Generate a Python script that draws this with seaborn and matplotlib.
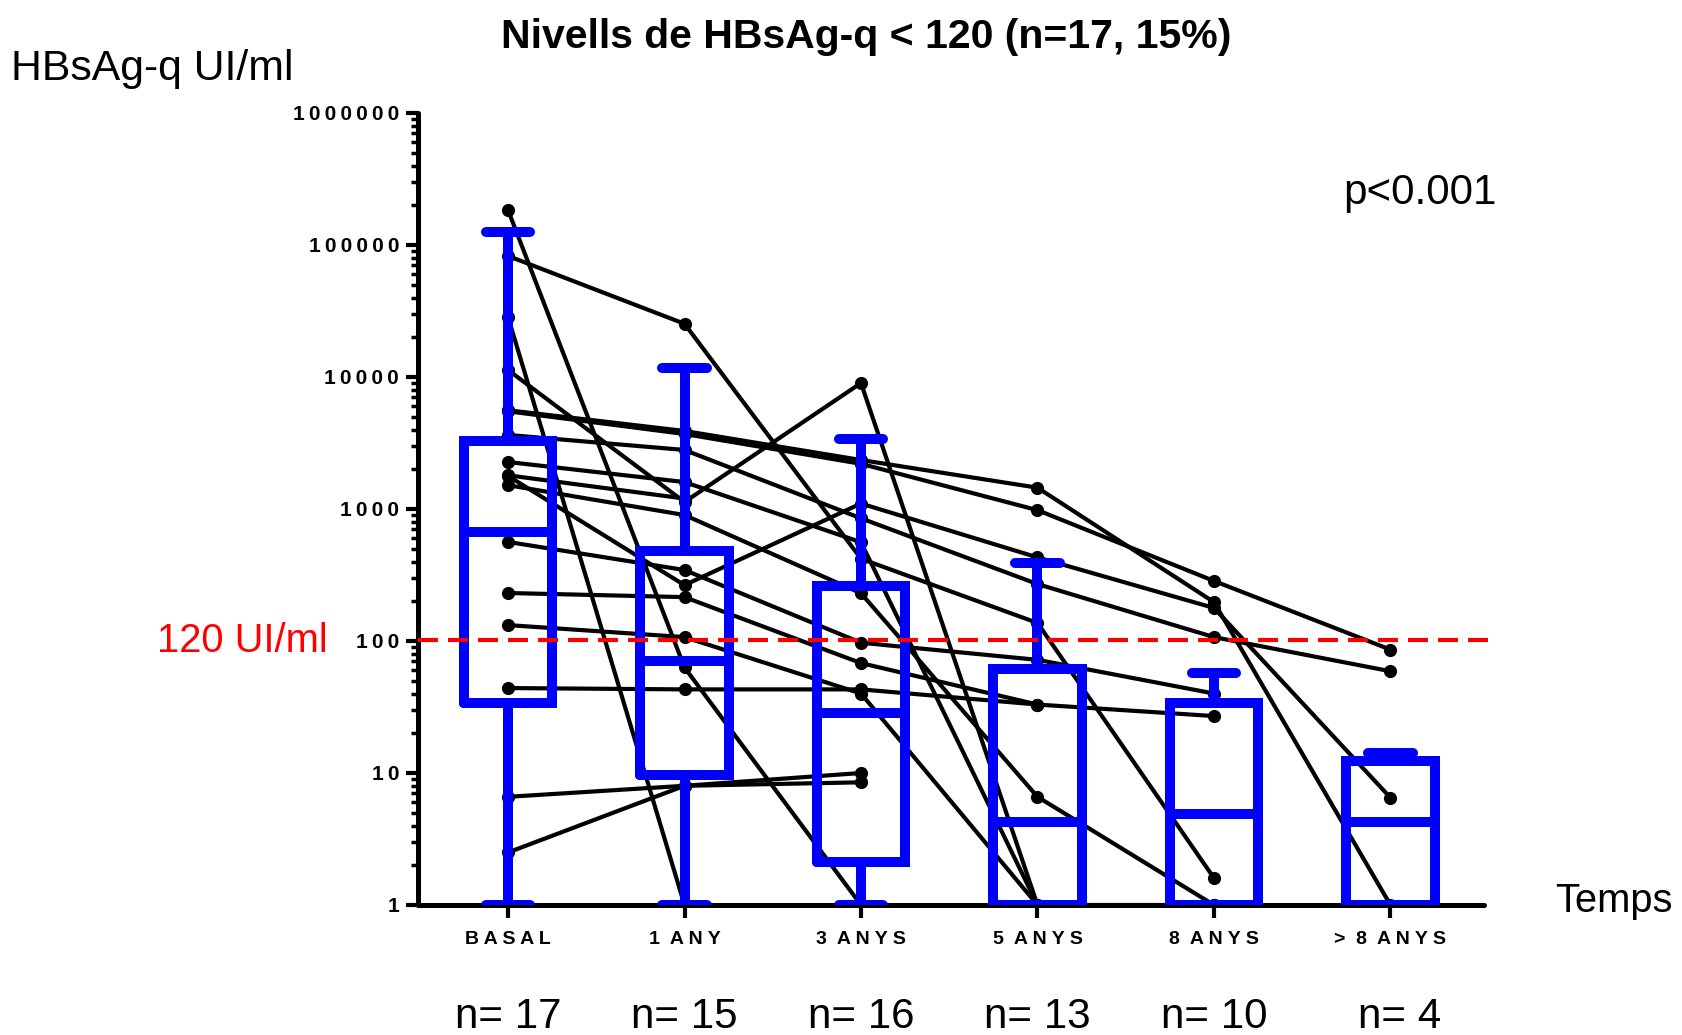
import numpy as np
import pandas as pd
import matplotlib
matplotlib.use("Agg")
import matplotlib.pyplot as plt
import seaborn as sns
from matplotlib import font_manager
from matplotlib.ticker import LogLocator, NullFormatter

# --- data (one value per patient, nan = no sample) ---
nan = np.nan
time_labels = ["B A S A L", "1  A N Y", "3  A N Y S", "5  A N Y S", "8  A N Y S", ">  8  A N Y S"]
n_labels = ["n= 17", "n= 15", "n= 16", "n= 13", "n= 10", "n= 4"]

basal = [184000, 82600, 28500, 11300, 5600, 5500, 1780, 3640, 2270, 1515, 563, 231, 132, 44, 1800, 6.6, 2.5]
any1 = [63, 25300, 1, 1130, 3900, 3700, 265, 2800, 1600, 900, 345, 215, 107, 43, 1200, 8.0, 8.0]
anys3 = [1, 420, nan, 9000, 2350, 2200, 1100, 850, 560, 230, 97, 68, 40, 43, nan, 10, 8.5]
anys5 = [nan, 137, nan, 1, 1450, 980, 430, 270, 1, 6.6, 72, 33, 1, 33, nan, nan, nan]
anys8 = [nan, 1.6, nan, nan, 197, 285, 178, 107, 1, 1, 40, 27, nan, nan, nan, nan, nan]
anys8plus = [nan, nan, nan, nan, 1, 86, 6.5, 59, nan, nan, nan, nan, nan, nan, nan, nan, nan]

# box statistics (min-max whiskers)
box_low = [1, 1, 1, 1, 1, 1]
box_q1 = [34, 9.7, 2.1, 1, 1, 1]
box_med = [675, 70, 28.5, 4.25, 4.9, 4.25]
box_q3 = [3300, 480, 260, 61, 34, 12.3]
box_high = [126000, 11700, 3400, 390, 57, 14.2]

cutoff = 102


def has_font(name):
    try:
        font_manager.findfont(font_manager.FontProperties(family=name), fallback_to_default=False)
        return True
    except ValueError:
        return False


sns.set_style("ticks")
plt.rcParams["font.family"] = ["Liberation Sans", "DejaVu Sans"]
for key in ("text.color", "axes.labelcolor", "xtick.color", "ytick.color", "axes.edgecolor"):
    plt.rcParams[key] = "black"
if has_font("Liberation Sans Narrow"):
    NARROW, k = "Liberation Sans Narrow", 1.0
else:
    NARROW, k = "Liberation Sans", 0.82

# long table for seaborn
columns = [basal, any1, anys3, anys5, anys8, anys8plus]
rows = []
for t, col in enumerate(columns):
    for pid, v in enumerate(col):
        rows.append({"pid": pid, "t": t, "v": v})
df = pd.DataFrame(rows).dropna()

W, H = 1682, 1035
fig = plt.figure(figsize=(W / 100, H / 100), dpi=100)
ax = fig.add_axes([418 / W, 1 - 905 / H, (1484 - 418) / W, (905 - 113) / H])
ax.set_yscale("log")

sns.lineplot(data=df, x="t", y="v", units="pid", estimator=None, sort=False,
             color="black", lw=3, marker="o", markersize=9.5, markeredgewidth=0,
             legend=False, ax=ax, zorder=2)

stats = [dict(whislo=lo, q1=a, med=m, q3=b, whishi=hi, fliers=[])
         for lo, a, m, b, hi in zip(box_low, box_q1, box_med, box_q3, box_high)]
blue = dict(color="#0000FF", lw=7.2, solid_joinstyle="miter")
ax.bxp(stats, positions=range(6), widths=0.5, capwidths=0.25, showfliers=False,
       boxprops=blue, whiskerprops=blue, medianprops=blue,
       capprops=dict(color="#0000FF", lw=7.2, solid_capstyle="round"), zorder=3)

ax.plot([-0.51, 5.61], [cutoff, cutoff], color="#FF0000", lw=3,
        ls=(0, (4.8, 2.4)), clip_on=False, zorder=4)

ax.set_xlim(-0.51, 5.53)
ax.set_ylim(1, 1e6)
ax.set_xlabel("")
ax.set_ylabel("")

yt = [1, 10, 100, 1000, 10000, 100000, 1000000]
ax.set_yticks(yt)
ax.set_yticklabels(["\u2009".join(str(v)) for v in yt], fontweight="bold", fontsize=15)
ax.yaxis.set_minor_locator(LogLocator(base=10, subs=np.arange(2, 10)))
ax.yaxis.set_minor_formatter(NullFormatter())
ax.tick_params(axis="y", which="major", length=8.6, width=3, pad=5)
ax.tick_params(axis="y", which="minor", length=5, width=2.5)

ax.set_xticks(range(6))
ax.set_xticklabels(time_labels, fontweight="bold", fontsize=14)
ax.tick_params(axis="x", which="major", length=9.4, width=3, pad=9)
ax.tick_params(axis="x", which="minor", length=0)

sns.despine(ax=ax)
for side in ("left", "bottom"):
    ax.spines[side].set_linewidth(3.6)
    ax.spines[side].set_capstyle("round")

# texts
fig.text(866 / W, 1 - 48 / H, "Nivells de HBsAg-q < 120 (n=17, 15%)", ha="center", va="baseline",
         family=[NARROW, "DejaVu Sans"], fontweight="bold", fontsize=36 * k)
fig.text(11 / W, 1 - 80 / H, "HBsAg-q UI/ml", ha="left", va="baseline",
         family=[NARROW, "DejaVu Sans"], fontsize=37.5 * k)
fig.text(242 / W, 1 - 652 / H, "120 UI/ml", ha="center", va="baseline", color="#FF0000",
         family=[NARROW, "DejaVu Sans"], fontsize=35 * k)
fig.text(1420 / W, 1 - 204 / H, "p<0.001", ha="center", va="baseline",
         family=[NARROW, "DejaVu Sans"], fontsize=37 * k)
fig.text(1555 / W, 1 - 912 / H, "Temps", ha="left", va="baseline",
         family=[NARROW, "DejaVu Sans"], fontsize=35 * k)

for i, lab in enumerate(n_labels):
    ax.text(i + (0.05 if i == 5 else 0.0), -0.155, lab, transform=ax.get_xaxis_transform(),
            ha="center", va="baseline", family=[NARROW, "DejaVu Sans"], fontsize=37 * k)

fig.savefig("out.png", dpi=100)
